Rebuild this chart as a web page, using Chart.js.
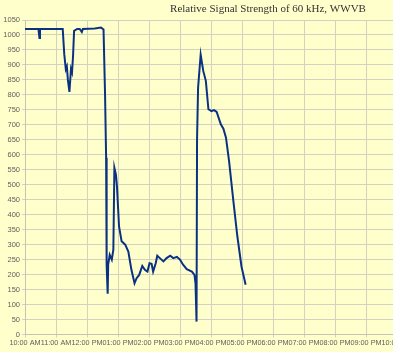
<!DOCTYPE html>
<html>
<head>
<meta charset="utf-8">
<script src="https://cdn.jsdelivr.net/npm/chart.js@4.4.1/dist/chart.umd.min.js"></script>
<style>
  html, body { margin: 0; padding: 0; background: #ffffcc; overflow: hidden; }
  #wrap { position: relative; width: 430px; height: 352px; }
</style>
</head>
<body>
<div id="wrap"><canvas id="wwvbChart"></canvas></div>
<script>
// --- data: minutes after 10:00 AM, relative signal strength ---
const minutes = [
  0, 26, 28, 29, 73, 76, 79, 81, 83, 86, 89, 91, 93, 95, 101, 106, 110, 112, 135, 147,
  152, 155, 157, 158, 160, 161, 164, 168, 171, 173, 176, 178, 182, 187, 194, 200, 206, 212, 216, 221,
  227, 232, 237, 241, 245, 248, 253, 256, 261, 268, 274, 281, 287, 294, 300, 306, 313, 323, 328, 330,
  332, 333, 335, 340, 345, 350, 355, 361, 366, 371, 379, 384, 389, 395, 403, 411, 419, 427
];
const strength = [
  1020, 1020, 990, 1020, 1020, 936, 886, 895, 850, 810, 886, 875, 930, 1014, 1020, 1020, 1010, 1020, 1022, 1025,
  1018, 796, 590, 233, 136, 233, 266, 250, 283, 557, 534, 495, 361, 311, 300, 277, 216, 171, 188, 199,
  229, 216, 210, 238, 236, 210, 238, 263, 255, 244, 255, 263, 255, 259, 250, 233, 218, 210, 199, 171,
  43, 651, 824, 934, 880, 847, 752, 746, 749, 743, 702, 687, 657, 579, 450, 328, 227, 166
];
const hourLabels = [
  '10:00 AM', '11:00 AM', '12:00 PM', '01:00 PM', '02:00 PM', '03:00 PM', '04:00 PM',
  '05:00 PM', '06:00 PM', '07:00 PM', '08:00 PM', '09:00 PM', '10:00 PM'
];
const chartTitle = 'Relative Signal Strength of 60 kHz, WWVB';

const gridColor = '#d2d2c2';
const tickColor = '#606060';

// title drawn off-centre like the original
const titlePlugin = {
  id: 'offsetTitle',
  afterDraw(chart) {
    const ctx = chart.ctx;
    ctx.save();
    ctx.font = '11px "Liberation Serif", "Times New Roman", serif';
    ctx.fillStyle = '#333333';
    ctx.textAlign = 'center';
    ctx.textBaseline = 'middle';
    ctx.fillText(chartTitle, 268, 9);
    ctx.restore();
  }
};

const ctx = document.getElementById('wwvbChart').getContext('2d');
new Chart(ctx, {
  type: 'line',
  data: {
    datasets: [{
      data: minutes.map((m, i) => ({ x: m, y: strength[i] })),
      borderColor: '#0b3282',
      borderWidth: 2,
      pointRadius: 0,
      tension: 0,
      fill: false
    }]
  },
  options: {
    responsive: true,
    maintainAspectRatio: false,
    animation: false,
    layout: { padding: { top: 20, right: 33, left: 0, bottom: 0 } },
    plugins: {
      legend: { display: false },
      tooltip: { enabled: false },
      title: { display: false }
    },
    scales: {
      x: {
        type: 'linear',
        min: 0,
        max: 720,
        afterBuildTicks: (scale) => {
          scale.ticks = hourLabels.map((_, i) => ({ value: i * 60 }));
        },
        afterFit: (scale) => { scale.height = 17.5; },
        ticks: {
          autoSkip: false,
          maxRotation: 0,
          padding: 1,
          color: tickColor,
          font: { family: '"Liberation Sans", Arial, sans-serif', size: 7.3 },
          callback: (v) => hourLabels[Math.round(v / 60)]
        },
        grid: { color: gridColor, tickLength: 3 },
        border: { color: '#c4c4b4' }
      },
      y: {
        min: 0,
        max: 1050,
        afterFit: (scale) => { scale.width = 25; },
        ticks: {
          stepSize: 50,
          padding: 2,
          color: tickColor,
          font: { family: '"Liberation Sans", Arial, sans-serif', size: 7.5 },
          callback: (v) => String(v)
        },
        grid: { color: gridColor, tickLength: 3 },
        border: { color: '#c4c4b4' }
      }
    }
  },
  plugins: [titlePlugin]
});
</script>
</body>
</html>
